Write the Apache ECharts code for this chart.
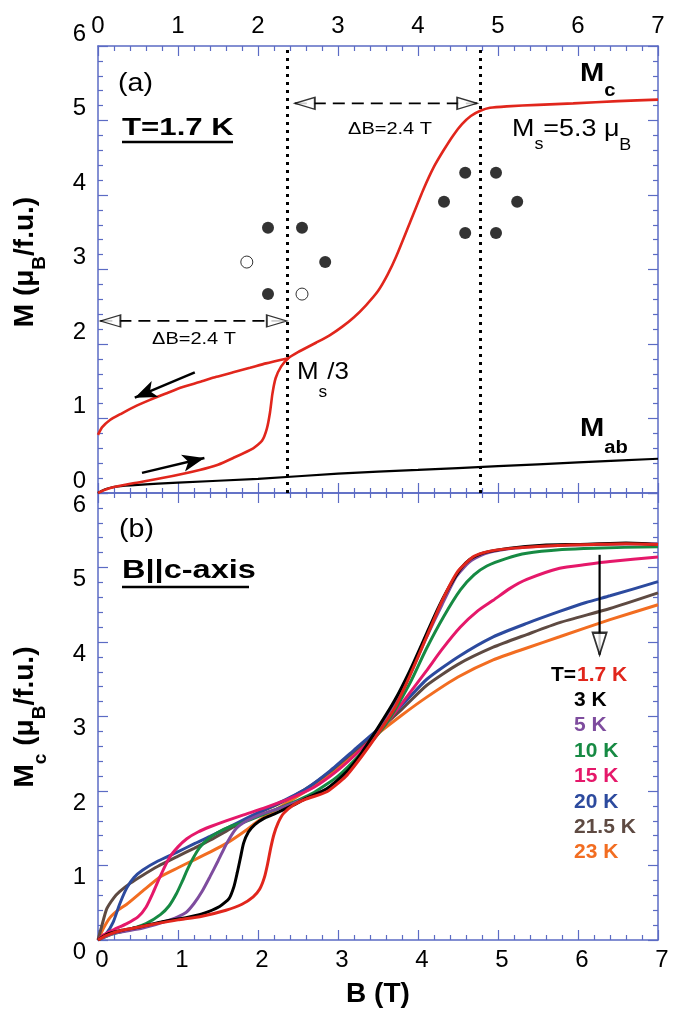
<!DOCTYPE html>
<html>
<head>
<meta charset="utf-8">
<script src="https://cdn.jsdelivr.net/npm/echarts@6/dist/echarts.min.js"></script>
<style>
html,body{margin:0;padding:0;background:#fff;}
#chart{width:679px;height:1012px;}
</style>
</head>
<body>
<div id="chart"></div>
<script>
// ---------- DATA ----------
const xTicks = [0,1,2,3,4,5,6,7];
const yTicks = [0,1,2,3,4,5,6];

// Panel (a): T = 1.7 K
const redUp = [[0,0],[0.08,0.04],[0.2,0.08],[0.44,0.13],[0.8,0.2],[1.27,0.31],[1.5,0.38],[1.69,0.47],[1.94,0.6],[2.05,0.7],[2.11,0.86],[2.15,1.08],[2.18,1.33],[2.22,1.54],[2.29,1.7],[2.38,1.81],[2.5,1.89],[2.73,2.02],[2.9,2.12],[3.05,2.23],[3.2,2.36],[3.35,2.52],[3.5,2.71],[3.62,2.93],[3.73,3.18],[3.9,3.63],[4.07,4.08],[4.2,4.38],[4.32,4.6],[4.44,4.8],[4.55,4.95],[4.66,5.06],[4.78,5.13],[4.9,5.17],[5.11,5.19],[5.5,5.21],[5.94,5.23],[6.5,5.26],[7,5.28]];
const redDown = [[0,0.78],[0.05,0.88],[0.15,0.98],[0.3,1.07],[0.44,1.15],[0.65,1.25],[0.86,1.34],[1.05,1.42],[1.27,1.49],[1.48,1.56],[1.69,1.62],[1.9,1.68],[2.1,1.74],[2.38,1.81]];
const mab = [[0,0],[0.05,0.03],[0.12,0.06],[0.25,0.09],[0.5,0.11],[1,0.14],[2,0.19],[3,0.26],[4,0.31],[5,0.36],[6,0.41],[7,0.46]];
const dottedB = [2.36, 4.78];
const dashLow = [[0.03,2.31],[2.36,2.31]];
const dashHigh = [[2.46,5.23],[4.74,5.23]];
const hystArrows = [[[1.21,1.62],[0.46,1.28]], [[0.55,0.27],[1.33,0.47]]];
const spinFilled = [[2.125,3.56],[2.55,3.56],[2.84,3.10],[2.125,2.67],[4.59,4.30],[4.975,4.30],[4.325,3.91],[5.24,3.91],[4.59,3.49],[4.975,3.49]];
const spinOpen = [[1.86,3.10],[2.55,2.67]];

// Panel (b): B || c-axis, several temperatures
const temps = ['1.7 K','3 K','5 K','10 K','15 K','20 K','21.5 K','23 K'];
const colors = ['#e1261c','#000000','#7e4c9e','#168a43','#e5186a','#2c4a9e','#5e4a42','#f26d21'];
const c17 = [[0,0],[0.1,0.06],[0.3,0.13],[0.5,0.17],[0.78,0.23],[1.0,0.27],[1.3,0.32],[1.6,0.40],[1.8,0.48],[1.94,0.58],[2.02,0.68],[2.08,0.84],[2.12,1.02],[2.16,1.24],[2.2,1.42],[2.25,1.57],[2.32,1.7],[2.44,1.81],[2.6,1.89],[2.86,1.99],[3.1,2.2],[3.3,2.47],[3.5,2.77],[3.7,3.1],[3.9,3.55],[4.1,4.05],[4.3,4.55],[4.5,4.95],[4.7,5.15],[4.9,5.22],[5.2,5.26],[5.6,5.29],[6.2,5.31],[6.6,5.32],[7,5.31]];
const c3 = [[0,0],[0.1,0.07],[0.3,0.13],[0.5,0.17],[0.78,0.24],[1.1,0.3],[1.3,0.35],[1.52,0.45],[1.64,0.56],[1.7,0.72],[1.74,0.9],[1.78,1.1],[1.82,1.3],[1.88,1.45],[1.96,1.55],[2.07,1.63],[2.2,1.69],[2.44,1.81],[2.6,1.9],[2.86,2.03],[3.1,2.25],[3.3,2.52],[3.5,2.85],[3.7,3.2],[3.9,3.62],[4.11,4.12],[4.25,4.45],[4.38,4.72],[4.53,4.98],[4.65,5.11],[4.8,5.19],[5.15,5.26],[5.56,5.30],[6.0,5.31],[6.6,5.33],[7,5.31]];
const c5 = [[0,0],[0.2,0.09],[0.56,0.16],[0.9,0.27],[1.1,0.37],[1.2,0.49],[1.3,0.65],[1.4,0.85],[1.5,1.06],[1.61,1.3],[1.73,1.5],[1.86,1.6],[2.02,1.68],[2.3,1.78],[2.6,1.9],[2.86,2.03],[3.1,2.23],[3.3,2.5],[3.5,2.83],[3.7,3.17],[3.9,3.57],[4.1,4.05],[4.3,4.5],[4.48,4.88],[4.65,5.08],[4.85,5.19],[5.2,5.26],[5.6,5.29],[6.2,5.31],[7,5.32]];
const c10 = [[0,0],[0.15,0.07],[0.36,0.13],[0.6,0.22],[0.78,0.34],[0.89,0.46],[0.98,0.62],[1.05,0.78],[1.12,0.95],[1.19,1.1],[1.27,1.24],[1.37,1.35],[1.49,1.44],[1.65,1.52],[1.82,1.58],[2.1,1.7],[2.4,1.83],[2.7,1.98],[3.0,2.2],[3.3,2.52],[3.6,2.9],[3.9,3.45],[4.1,3.9],[4.32,4.34],[4.53,4.7],[4.7,4.9],[4.86,5.02],[5.1,5.12],[5.36,5.19],[5.8,5.24],[6.19,5.26],[7,5.28]];
const c15 = [[0,0],[0.07,0.07],[0.2,0.14],[0.36,0.22],[0.5,0.31],[0.6,0.44],[0.69,0.64],[0.78,0.86],[0.89,1.1],[1.0,1.25],[1.11,1.36],[1.25,1.45],[1.4,1.52],[1.6,1.6],[1.82,1.68],[2.1,1.78],[2.4,1.9],[2.7,2.05],[3.0,2.28],[3.3,2.57],[3.6,2.9],[3.85,3.25],[4.11,3.62],[4.3,3.9],[4.53,4.2],[4.75,4.42],[4.94,4.56],[5.15,4.72],[5.36,4.84],[5.77,4.99],[6.1,5.04],[6.4,5.08],[7,5.14]];
const c20 = [[0,0],[0.1,0.08],[0.19,0.24],[0.27,0.48],[0.36,0.7],[0.45,0.84],[0.56,0.94],[0.75,1.06],[0.99,1.18],[1.2,1.29],[1.4,1.39],[1.7,1.55],[2.02,1.72],[2.3,1.86],[2.6,2.03],[2.9,2.27],[3.2,2.55],[3.5,2.83],[3.8,3.15],[4.11,3.5],[4.5,3.8],[4.94,4.07],[5.36,4.25],[5.77,4.41],[6.1,4.53],[6.4,4.62],[7,4.81]];
const c215 = [[0,0],[0.05,0.2],[0.11,0.42],[0.2,0.57],[0.27,0.65],[0.4,0.76],[0.56,0.87],[0.75,0.99],[0.99,1.12],[1.2,1.23],[1.4,1.34],[1.7,1.52],[2.02,1.71],[2.3,1.85],[2.6,2.03],[2.9,2.26],[3.2,2.53],[3.5,2.81],[3.8,3.1],[4.11,3.42],[4.5,3.7],[4.94,3.93],[5.36,4.1],[5.77,4.26],[6.4,4.45],[7,4.66]];
const c23 = [[0,0],[0.07,0.16],[0.15,0.3],[0.25,0.4],[0.36,0.48],[0.56,0.66],[0.78,0.85],[1.0,0.97],[1.19,1.07],[1.4,1.18],[1.61,1.3],[1.82,1.45],[2.02,1.61],[2.3,1.8],[2.6,2.0],[2.9,2.23],[3.2,2.5],[3.5,2.77],[3.8,3.02],[4.11,3.26],[4.5,3.53],[4.94,3.76],[5.36,3.92],[5.77,4.07],[6.4,4.3],[7,4.5]];
const curvesB = [c17, c3, c5, c10, c15, c20, c215, c23];
const tempArrow = [[6.27,5.17],[6.27,3.83]];

// ---------- STYLE / HELPERS ----------
const FONT = "'Liberation Sans', Arial, Helvetica, sans-serif";
const AX = '#5b6bc4';
const RED = '#e1261c';
const mctx = document.createElement('canvas').getContext('2d');
function fontStr(fs, bold){ return (bold ? 'bold ' : '') + fs + 'px ' + FONT; }
function tw(t, fs, bold){ mctx.font = fontStr(fs, bold); return mctx.measureText(t).width; }
function multiText(x, y, parts, opt){
  opt = opt || {};
  const widths = parts.map(p => tw(p.t, p.fs, p.bold));
  const total = widths.reduce((a,b)=>a+b, 0);
  let cx = opt.align === 'center' ? -total/2 : (opt.align === 'right' ? -total : 0);
  const children = parts.map((p,i) => {
    const el = {type:'text', x: cx, y: p.dy || 0, style:{text:p.t, font: fontStr(p.fs, p.bold), fill: p.color || '#000',
      align:'left', verticalAlign:'middle', textAlign:'left', textVerticalAlign:'middle'}};
    cx += widths[i];
    return el;
  });
  return {type:'group', x:x, y:y, rotation: opt.rotation || 0, scaleX: opt.scaleX || 1, scaleY: 1, children: children, z: 100};
}
function uline(x1, x2, y){ return {type:'line', shape:{x1:x1, y1:y, x2:x2, y2:y}, style:{stroke:'#000', lineWidth:2.5}, z:100}; }

function xAx(grid, pos, showLabel, extra){
  return Object.assign({type:'value', gridIndex:grid, position:pos, min:0, max:7, interval:1,
    axisLine:{show:true, onZero:false, lineStyle:{color:AX, width:1.5}},
    axisTick:{show:true, inside:true, length:10, lineStyle:{color:AX, width:1.2}},
    minorTick:{show:true, splitNumber:5, length:5, lineStyle:{color:AX, width:1.2}},
    splitLine:{show:false}, minorSplitLine:{show:false},
    axisLabel:{show:showLabel, color:'#000', fontSize:24, fontFamily:FONT, margin:8,
      formatter: v => xTicks.includes(v) ? String(v) : ''}}, extra || {});
}
function yAx(grid, pos, showLabel, vAlign){
  return {type:'value', gridIndex:grid, position:pos, min:0, max:6, interval:1,
    axisLine:{show:true, onZero:false, lineStyle:{color:AX, width:1.5}},
    axisTick:{show:true, inside:true, length:10, lineStyle:{color:AX, width:1.2}},
    minorTick:{show:true, splitNumber:5, length:5, lineStyle:{color:AX, width:1.2}},
    splitLine:{show:false}, minorSplitLine:{show:false},
    axisLabel:{show:showLabel, color:'#000', fontSize:24, fontFamily:FONT, margin:12, verticalAlign:vAlign || 'middle',
      lineHeight:24, formatter: v => yTicks.includes(v) ? String(v) : ''}};
}
function lineS(data, color, width, xi, yi, extra){
  return Object.assign({type:'line', data:data, xAxisIndex:xi, yAxisIndex:yi, symbol:'none', smooth:0.2,
    lineStyle:{color:color, width:width}, itemStyle:{color:color}, silent:true, z:3}, extra || {});
}
const HEAD_L = 'path://M20,0 L0,6 L20,12 Z';
const HEAD_R = 'path://M0,0 L20,6 L0,12 Z';
const HEAD_D = 'path://M0,0 L14,0 L7,22 Z';

const series = [];
// Panel (a)
series.push(lineS(mab, '#000', 2.2, 0, 0, {
  markLine:{silent:true, symbol:['none','none'], label:{show:false}, animation:false,
    lineStyle:{color:'#000', width:3, type:[3,5]},
    data: dottedB.map(b => ({xAxis:b}))}
}));
series.push(lineS(redUp, RED, 2.6, 0, 0, {
  markLine:{silent:true, symbol:['none','arrow'], symbolSize:[13,22], label:{show:false}, animation:false,
    lineStyle:{color:'#000', width:2.5, type:'solid'},
    data: hystArrows.map(a => [{coord:a[0]}, {coord:a[1]}])}
}));
series.push(lineS(redDown, RED, 2.6, 0, 0));
series.push(lineS(dashLow, '#000', 1.6, 0, 0, {smooth:false, lineStyle:{color:'#000', width:1.6, type:[12,7]}}));
series.push(lineS(dashHigh, '#000', 1.6, 0, 0, {smooth:false, lineStyle:{color:'#000', width:1.6, type:[12,7]}}));
series.push({type:'scatter', xAxisIndex:0, yAxisIndex:0, data:[dashLow[0], dashHigh[0]], symbol:HEAD_L, symbolSize:[20,12], symbolOffset:[10,0],
  itemStyle:{color:'#fff', borderColor:'#000', borderWidth:1.5}, silent:true, z:5});
series.push({type:'scatter', xAxisIndex:0, yAxisIndex:0, data:[dashLow[1], dashHigh[1]], symbol:HEAD_R, symbolSize:[20,12], symbolOffset:[-10,0],
  itemStyle:{color:'#fff', borderColor:'#000', borderWidth:1.5}, silent:true, z:5});
series.push({type:'scatter', xAxisIndex:0, yAxisIndex:0, data:spinFilled, symbol:'circle', symbolSize:12,
  itemStyle:{color:'#000'}, silent:true, z:5});
series.push({type:'scatter', xAxisIndex:0, yAxisIndex:0, data:spinOpen, symbol:'circle', symbolSize:12,
  itemStyle:{color:'#fff', borderColor:'#000', borderWidth:1}, silent:true, z:5});

// Panel (b): draw from high T to low T so low-T curves sit on top
for (let i = curvesB.length - 1; i >= 0; i--) {
  series.push(lineS(curvesB[i], colors[i], 3, 2, 2, {name: temps[i]}));
}
series.push(lineS(tempArrow, '#000', 2.2, 2, 2, {smooth:false, z:6}));
series.push({type:'scatter', xAxisIndex:2, yAxisIndex:2, data:[tempArrow[1]], symbol:HEAD_D, symbolSize:[14,22], symbolOffset:[0,-11],
  itemStyle:{color:'#fff', borderColor:'#000', borderWidth:2}, silent:true, z:7});

// ---------- TEXT (graphic) ----------
const graphics = [
  multiText(25, 262, [{t:'M (μ', fs:28, bold:true},{t:'B', fs:19, bold:true, dy:15},{t:'/f.u.)', fs:28, bold:true}], {align:'center', rotation:Math.PI/2}),
  multiText(25, 717, [{t:'M', fs:28, bold:true},{t:'c', fs:19, bold:true, dy:16},{t:' (μ', fs:28, bold:true},{t:'B', fs:19, bold:true, dy:15},{t:'/f.u.)', fs:28, bold:true}], {align:'center', rotation:Math.PI/2}),
  multiText(118, 84, [{t:'(a)', fs:26}], {scaleX:1.1}),
  multiText(122, 128, [{t:'T=1.7 K', fs:24, bold:true}], {scaleX:1.3}),
  uline(122, 233, 142),
  multiText(390, 130, [{t:'ΔB=2.4 T', fs:16}], {align:'center', scaleX:1.25}),
  multiText(194, 340, [{t:'ΔB=2.4 T', fs:16}], {align:'center', scaleX:1.25}),
  multiText(580, 74, [{t:'M', fs:26, bold:true},{t:'c', fs:18, bold:true, dy:17}], {scaleX:1.12}),
  multiText(512, 129, [{t:'M', fs:24},{t:'s', fs:16, dy:16},{t:'=5.3 μ', fs:24},{t:'B', fs:16, dy:17}], {scaleX:1.12}),
  multiText(297, 372, [{t:'M', fs:24},{t:'s', fs:16, dy:21},{t:'/3', fs:24}], {scaleX:1.08}),
  multiText(580, 429, [{t:'M', fs:26, bold:true},{t:'ab', fs:18, bold:true, dy:19}], {scaleX:1.12}),
  multiText(119, 530, [{t:'(b)', fs:26}], {scaleX:1.1}),
  multiText(122, 571, [{t:'B||c-axis', fs:25, bold:true}], {scaleX:1.3}),
  uline(122, 249, 587),
  multiText(576, 675, [{t:'T=', fs:20, bold:true}], {align:'right', scaleX:1.05})
];
temps.forEach((t, i) => {
  graphics.push(multiText(i === 0 ? 577 : 574, 675 + i * 25.4, [{t:t, fs:20, bold:true, color:colors[i]}], {scaleX:1.05}));
});

const option = {
  animation:false,
  backgroundColor:'#fff',
  grid:[
    {left:98, top:46, width:560, height:447, containLabel:false},
    {left:98, top:493, width:560, height:447, containLabel:false}
  ],
  xAxis:[
    xAx(0, 'bottom', false),
    xAx(0, 'top', true),
    xAx(1, 'bottom', true, {name:'B (T)', nameLocation:'middle', nameGap:40,
      nameTextStyle:{fontSize:28, fontWeight:'bold', color:'#000', fontFamily:FONT}}),
    xAx(1, 'top', false)
  ],
  yAxis:[
    yAx(0, 'left', true, 'bottom'),
    yAx(0, 'right', false),
    yAx(1, 'left', true, 'top'),
    yAx(1, 'right', false)
  ],
  series: series,
  graphic: graphics
};
// bottom x labels sit slightly right of their ticks in the reference
option.xAxis[2].axisLabel.padding = [0,0,0,8];

const chart = echarts.init(document.getElementById('chart'), null, {renderer:'canvas'});
chart.setOption(option);
</script>
</body>
</html>
